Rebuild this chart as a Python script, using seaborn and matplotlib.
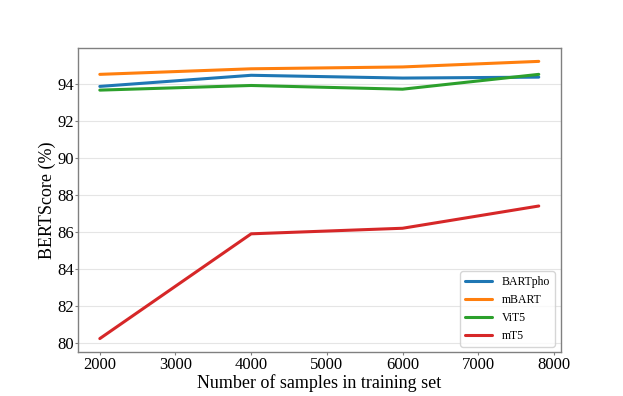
import matplotlib
matplotlib.use("Agg")
import matplotlib.pyplot as plt
import seaborn as sns
import pandas as pd

samples = [2000, 4000, 6000, 7800]
bartpho = [93.85, 94.45, 94.3, 94.35]
mbart = [94.5, 94.8, 94.9, 95.2]
vit5 = [93.65, 93.9, 93.7, 94.5]
mt5 = [80.25, 85.9, 86.2, 87.4]
models = ["BARTpho", "mBART", "ViT5", "mT5"]

rows = []
for name, vals in zip(models, [bartpho, mbart, vit5, mt5]):
    for s, v in zip(samples, vals):
        rows.append({"samples": s, "score": v, "model": name})
df = pd.DataFrame(rows)

sns.set_style("whitegrid")
plt.rcParams["font.family"] = ["Liberation Serif", "DejaVu Serif"]
plt.rcParams["text.color"] = "black"
plt.rcParams["axes.labelcolor"] = "black"
plt.rcParams["xtick.color"] = "black"
plt.rcParams["ytick.color"] = "black"

fig = plt.figure(figsize=(6.23, 3.96), dpi=100)
ax = fig.add_subplot(111)
fig.subplots_adjust(left=0.125, right=0.9, top=0.88, bottom=0.11)

sns.lineplot(data=df, x="samples", y="score", hue="model", hue_order=models,
             palette=["#1f77b4", "#ff7f0e", "#2ca02c", "#d62728"], linewidth=2.2, ax=ax)

ax.grid(axis="x", visible=False)
ax.grid(axis="y", color="#e5e5e5", linewidth=0.8)
for sp in ax.spines.values():
    sp.set_color("#808080")
    sp.set_linewidth(1.0)
ax.tick_params(axis="both", labelsize=12, length=2, pad=1, color="#808080",
               left=True, bottom=True)
ax.set_xlabel("Number of samples in training set", fontsize=13, labelpad=1)
ax.set_ylabel("BERTScore (%)", fontsize=13, labelpad=1)
ax.set_yticks([80, 82, 84, 86, 88, 90, 92, 94])
ax.set_xticks([2000, 3000, 4000, 5000, 6000, 7000, 8000])
ax.margins(x=0.05, y=0.05)
leg = ax.legend(loc="lower right", fontsize=8.5, frameon=True, handlelength=2.3,
                borderaxespad=0.5)
leg.set_title(None)

fig.savefig("out.png", dpi=100)
